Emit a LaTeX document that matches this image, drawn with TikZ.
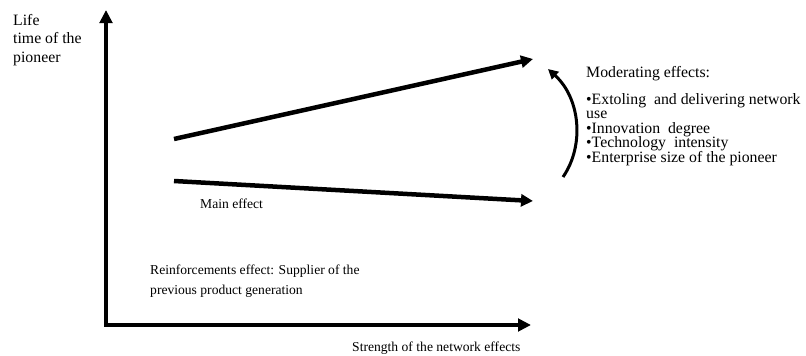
\documentclass[tikz,border=0pt]{standalone}
\usepackage{fontspec}
\setmainfont{Liberation Serif}
\usetikzlibrary{arrows.meta}
\begin{document}
\begin{tikzpicture}[x=1pt,y=-1pt,
  lbl/.style={anchor=base west,inner sep=0pt,font=\fontsize{15.8}{19}\selectfont},
  small/.style={anchor=base west,inner sep=0pt,font=\fontsize{13.6}{16}\selectfont},
  thick line/.style={line width=4.5pt,-{Triangle[length=12pt,width=12pt]}},
  curve line/.style={line width=3pt,-{Triangle[length=10pt,width=10pt]}}]
\useasboundingbox (0,0) rectangle (806,356);
% axes
\coordinate (ytip) at (106,10);
\coordinate (orig) at (106,325);
\coordinate (xtip) at (531,325);
\draw[line width=4.5pt,line join=miter,{Triangle[length=13pt,width=12.5pt]}-{Triangle[length=13pt,width=12.5pt]}] (ytip) -- (orig) -- (xtip);
% effect lines
\coordinate (ua) at (174,139);
\coordinate (ub) at (533,59);
\coordinate (la) at (174,181);
\coordinate (lb) at (533,201);
\draw[thick line] (ua) -- (ub);
\draw[thick line] (la) -- (lb);
% curved arrow
\coordinate (ca) at (563,177);
\coordinate (cb) at (548,69);
\draw[curve line] (ca) .. controls (585,145) and (580,98) .. (cb);
% labels
\node[lbl] (life1) at (13,25) {Life};
\node[lbl] (life2) at (13,43.5) {time of the};
\node[lbl] (life3) at (13,62) {pioneer};
\node[small] (main) at (200,208) {Main effect};
\node[small] (re1) at (150,274) {Reinforcements effect: Supplier of the};
\node[small] (re2) at (150,294) {previous product generation};
\node[small] (xlab) at (352,351) {Strength of the network effects};
\node[lbl] (mod) at (586,77) {Moderating effects:};
\node[lbl] (b1) at (586,104) {\textbullet Extoling\ \ and delivering network};
\node[lbl] (b1b) at (586,118.5) {use};
\node[lbl] (b2) at (586,133) {\textbullet Innovation\ \ degree};
\node[lbl] (b3) at (586,147.5) {\textbullet Technology\ \ intensity};
\node[lbl] (b4) at (586,162) {\textbullet Enterprise size of the pioneer};
\end{tikzpicture}
\end{document}
